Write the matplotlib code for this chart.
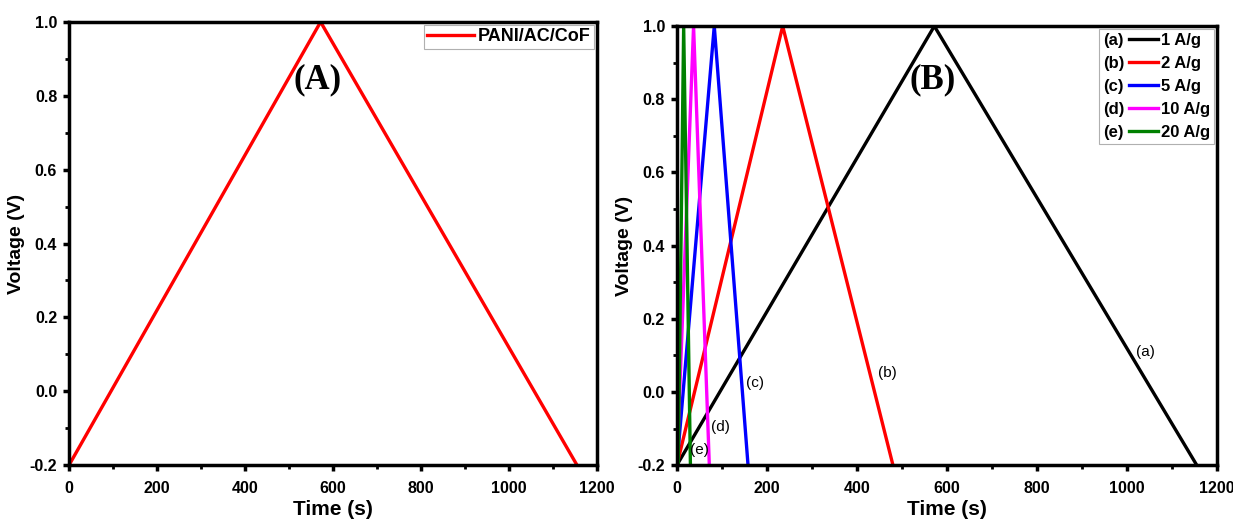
import matplotlib
matplotlib.use('Agg')
import matplotlib.pyplot as plt
from matplotlib.ticker import MultipleLocator, FormatStrFormatter
from matplotlib.lines import Line2D
from matplotlib.text import Text

# galvanostatic charge/discharge curves: start, peak, end times (s)
v_min, v_max = -0.2, 1.0

t_cof = [0, 572, 1155]
v_cof = [v_min, v_max, v_min]

rates = ['1 A/g', '2 A/g', '5 A/g', '10 A/g', '20 A/g']
tags = ['(a)', '(b)', '(c)', '(d)', '(e)']
colors = ['black', '#ff0000', '#0000ff', '#ff00ff', '#008000']
t_peak = [572, 235, 83, 37, 15]
t_end = [1155, 480, 158, 72, 30]
t_start = [0, 0, 0, 0, 3]

# curve tag positions (time, voltage)
tag_x = [1040, 467, 173, 96, 51]
tag_y = [0.11, 0.052, 0.024, -0.096, -0.159]

bold = dict(family='Liberation Sans', weight='bold')
LW = 2.4


class TagHandler:
    """legend handle drawn as '(x)' followed by the line sample"""
    def __init__(self, tag, color):
        self.tag = tag
        self.color = color

    def legend_artist(self, legend, orig_handle, fontsize, handlebox):
        x0, y0 = -handlebox.xdescent, -handlebox.ydescent
        w, h = handlebox.width, handlebox.height
        tw = 1.55 * fontsize
        txt = Text(x0, y0 + h / 2, self.tag, ha='left', va='center_baseline',
                   fontsize=fontsize, **bold)
        ln = Line2D([x0 + tw, x0 + w], [y0 + h / 2] * 2, color=self.color, lw=LW)
        handlebox.add_artist(txt)
        handlebox.add_artist(ln)
        return ln


def style(ax):
    ax.set_xlim(0, 1200)
    ax.set_ylim(v_min, v_max)
    ax.xaxis.set_major_locator(MultipleLocator(200))
    ax.xaxis.set_minor_locator(MultipleLocator(100))
    ax.yaxis.set_major_locator(MultipleLocator(0.2))
    ax.yaxis.set_minor_locator(MultipleLocator(0.1))
    ax.yaxis.set_major_formatter(FormatStrFormatter('%.1f'))
    for s in ax.spines.values():
        s.set_linewidth(2.5)
    ax.tick_params(which='major', direction='out', length=4.5, width=2.5, pad=4)
    ax.tick_params(axis='x', which='major', pad=7)
    ax.tick_params(which='minor', direction='out', length=3, width=2)
    for lab in ax.get_xticklabels() + ax.get_yticklabels():
        lab.set_fontproperties(matplotlib.font_manager.FontProperties(size=11.5, **bold))
    ax.set_xlabel('Time (s)', fontsize=15, labelpad=3, **bold)
    ax.set_ylabel('Voltage (V)', fontsize=14, labelpad=3, **bold)


fig = plt.figure(figsize=(12.33, 5.22), dpi=100)
axA = fig.add_axes([0.056, 0.109, 0.428, 0.849])
axB = fig.add_axes([0.549, 0.109, 0.438, 0.841])

axA.plot(t_cof, v_cof, color='#ff0000', lw=LW, label='PANI/AC/CoF', solid_joinstyle='miter')
style(axA)
legA = axA.legend(loc='upper right', fancybox=False, edgecolor='#b0b0b0',
                  prop=dict(size=13, **bold), handlelength=2.6, handletextpad=0.2,
                  borderpad=0.2, borderaxespad=0.15, framealpha=1)
legA.get_frame().set_linewidth(0.8)
axA.text(564, 0.843, '(A)', ha='center', va='center', fontsize=25,
         family='Liberation Serif', weight='bold')

handles = []
for i in range(len(rates)):
    h, = axB.plot([t_start[i], t_peak[i], t_end[i]], [v_min, v_max, v_min],
                  color=colors[i], lw=LW, label=rates[i], solid_joinstyle='miter')
    handles.append(h)
    axB.text(tag_x[i], tag_y[i], tags[i], ha='center', va='center', fontsize=11,
             family='Liberation Sans')
style(axB)
legB = axB.legend(handles=handles, loc='upper right', fancybox=False, edgecolor='#b0b0b0',
                  prop=dict(size=12, **bold), handlelength=3.3, handletextpad=0.2,
                  labelspacing=0.48, borderpad=0.25, borderaxespad=0.15, framealpha=1,
                  handler_map={h: TagHandler(t, c) for h, t, c in zip(handles, tags, colors)})
legB.get_frame().set_linewidth(0.8)
axB.text(569, 0.852, '(B)', ha='center', va='center', fontsize=25,
         family='Liberation Serif', weight='bold')

fig.savefig('out.png', dpi=100)
